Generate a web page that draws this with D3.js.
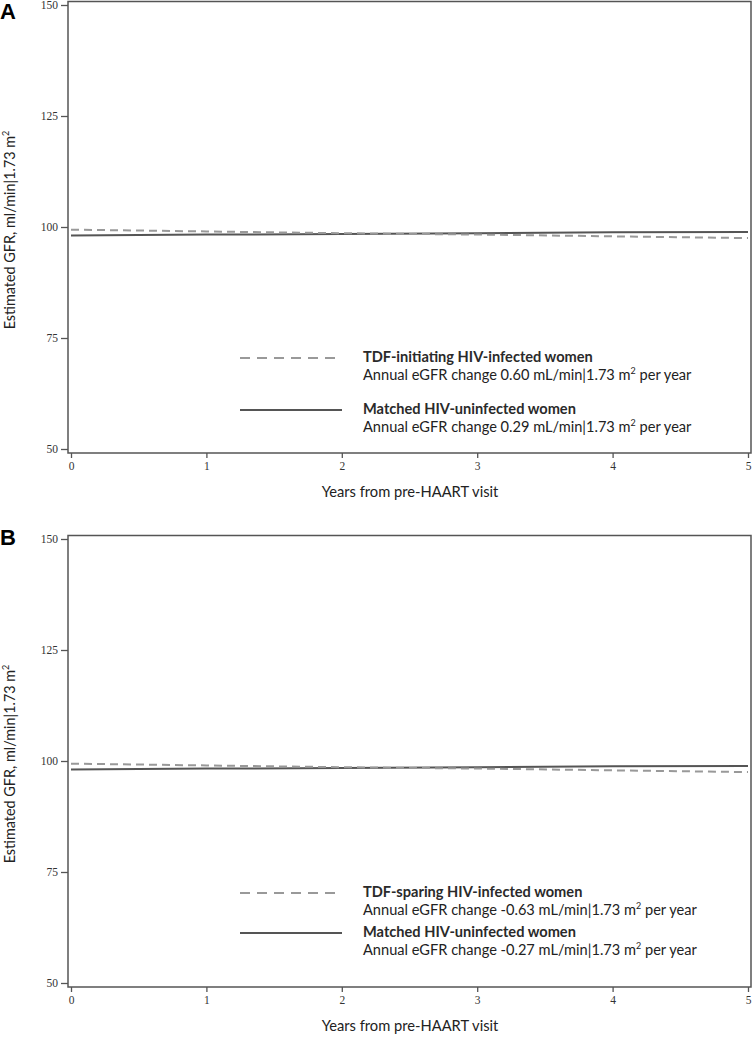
<!DOCTYPE html>
<html>
<head>
<meta charset="utf-8">
<script src="https://cdn.jsdelivr.net/npm/d3@7"></script>
<style>
  html, body { margin: 0; padding: 0; background: #fff; }
  svg { display: block; }
</style>
</head>
<body>
<svg id="chart" width="753" height="1037"></svg>
<script>
// ---- Data ----
const years = [0, 1, 2, 3, 4, 5];
const xTicks = [0, 1, 2, 3, 4, 5];
const yTicks = [50, 75, 100, 125, 150];

const panelLabels = ["A", "B"];

const panelA_infected   = [99.4, 99.0, 98.6, 98.3, 97.9, 97.5];
const panelA_uninfected = [98.1, 98.3, 98.4, 98.6, 98.8, 98.9];
const panelB_infected   = [99.4, 99.0, 98.6, 98.3, 97.9, 97.5];
const panelB_uninfected = [98.1, 98.3, 98.4, 98.6, 98.8, 98.9];

const panelA_legendTitles = ["TDF-initiating HIV-infected women", "Matched HIV-uninfected women"];
const panelA_legendChanges = ["0.60", "0.29"];
const panelB_legendTitles = ["TDF-sparing HIV-infected women", "Matched HIV-uninfected women"];
const panelB_legendChanges = ["-0.63", "-0.27"];

const xTitle = "Years from pre-HAART visit";

// ---- Drawing ----
const svg = d3.select("#chart");
const legendFont = "Lato, 'Open Sans', sans-serif";
const tickFont = "'Liberation Serif', 'DejaVu Serif', serif";

function drawPanel(cfg) {
  const g = svg.append("g").attr("transform", `translate(0,${cfg.top})`);
  const x = d3.scaleLinear().domain([0, 5]).range([71, 748]);
  const y = d3.scaleLinear().domain([50, 150]).range([449, 5]);

  // frame
  g.append("rect")
    .attr("x", 68).attr("y", 1.5)
    .attr("width", 751 - 68).attr("height", 453 - 1.5)
    .attr("fill", "none").attr("stroke", "#555").attr("stroke-width", 1.5);

  // y axis ticks
  const yAxis = d3.axisLeft(y).tickValues(yTicks).tickSize(7).tickPadding(3);
  const ya = g.append("g").attr("transform", "translate(68,0)").call(yAxis);
  ya.select(".domain").remove();
  ya.selectAll(".tick line").attr("stroke", "#555").attr("stroke-width", 1.3);
  ya.selectAll(".tick text").attr("font-family", tickFont).attr("font-size", 11.5).attr("fill", "#333");

  // x axis ticks
  const xAxis = d3.axisBottom(x).tickValues(xTicks).tickSize(5).tickPadding(4).tickFormat(d3.format("d"));
  const xa = g.append("g").attr("transform", "translate(0,453)").call(xAxis);
  xa.select(".domain").remove();
  xa.selectAll(".tick line").attr("stroke", "#555").attr("stroke-width", 1.3);
  xa.selectAll(".tick text").attr("font-family", tickFont).attr("font-size", 11.5).attr("fill", "#333");

  // x title
  g.append("text")
    .attr("x", 410).attr("y", 497)
    .attr("text-anchor", "middle")
    .attr("font-family", legendFont).attr("font-size", 14.7).attr("fill", "#222")
    .text(xTitle);

  // y title
  const yt = g.append("text")
    .attr("transform", `translate(15,${cfg.yTitleCenter}) rotate(-90)`)
    .attr("text-anchor", "middle")
    .attr("font-family", legendFont).attr("font-size", 14.4).attr("fill", "#222");
  yt.append("tspan").text("Estimated GFR, ml/min|1.73 m");
  yt.append("tspan").attr("font-size", 9).attr("dy", -6).text("2");

  // panel label
  g.append("text")
    .attr("x", 0).attr("y", cfg.labelBaseline)
    .attr("font-family", "'Liberation Sans', Arial, sans-serif")
    .attr("font-weight", "bold").attr("font-size", 22).attr("fill", "#000")
    .text(cfg.label);

  const line = d3.line().x((d, i) => x(years[i])).y(d => y(d));

  g.append("path").datum(cfg.uninfected)
    .attr("d", line).attr("fill", "none")
    .attr("stroke", "#555").attr("stroke-width", 2);
  g.append("path").datum(cfg.infected)
    .attr("d", line).attr("fill", "none")
    .attr("stroke", "#999").attr("stroke-width", 2)
    .attr("stroke-dasharray", "8,5");

  // legend
  const entries = [
    { title: cfg.titles[0], change: cfg.changes[0], dashed: true, yLine: cfg.legendY[0] },
    { title: cfg.titles[1], change: cfg.changes[1], dashed: false, yLine: cfg.legendY[1] }
  ];
  entries.forEach(e => {
    g.append("line")
      .attr("x1", 240).attr("x2", 342)
      .attr("y1", e.yLine).attr("y2", e.yLine)
      .attr("stroke", e.dashed ? "#999" : "#555")
      .attr("stroke-width", 2.2)
      .attr("stroke-dasharray", e.dashed ? "10,7" : null);
    g.append("text")
      .attr("x", 363).attr("y", e.yLine + 4)
      .attr("font-family", legendFont).attr("font-size", 14.6)
      .attr("font-weight", "bold").attr("fill", "#2a2a2a")
      .text(e.title);
    const t = g.append("text")
      .attr("x", 363).attr("y", e.yLine + 4 + cfg.lineGap)
      .attr("font-family", legendFont).attr("font-size", 14.6).attr("fill", "#222");
    t.append("tspan").text(`Annual eGFR change ${e.change} mL/min|1.73 m`);
    t.append("tspan").attr("font-size", 9).attr("dy", -6).text("2");
    t.append("tspan").attr("dy", 6).text(" per year");
  });
}

drawPanel({
  top: 0, label: panelLabels[0], labelBaseline: 19, yTitleCenter: 230,
  infected: panelA_infected, uninfected: panelA_uninfected,
  titles: panelA_legendTitles, changes: panelA_legendChanges,
  legendY: [358, 410], lineGap: 18
});
drawPanel({
  top: 534, label: panelLabels[1], labelBaseline: 11, yTitleCenter: 230,
  infected: panelB_infected, uninfected: panelB_uninfected,
  titles: panelB_legendTitles, changes: panelB_legendChanges,
  legendY: [359, 399], lineGap: 18
});
</script>
</body>
</html>
